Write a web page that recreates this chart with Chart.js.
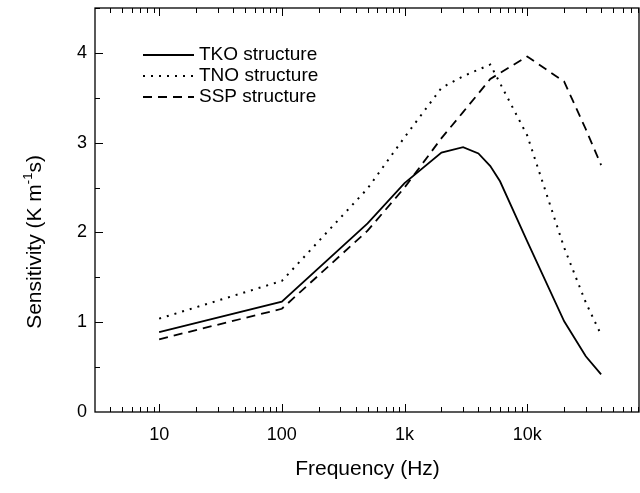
<!DOCTYPE html>
<html lang="en">
<head>
<meta charset="UTF-8">
<title>Sensitivity vs frequency</title>
<script src="https://cdn.jsdelivr.net/npm/chart.js"></script>
<style>
  html, body { margin: 0; padding: 0; background: #fff; overflow: hidden; }
  #wrap { width: 640px; height: 493px; }
</style>
</head>
<body>
<div id="wrap"><canvas id="sensChart"></canvas></div>
<script>
// values
const freqTKO = [10, 100, 500, 1000, 2000, 3000, 4000, 5000, 6000, 10000, 20000, 30000, 40000];
const sensTKO = [0.89, 1.23, 2.10, 2.55, 2.89, 2.95, 2.88, 2.74, 2.57, 1.90, 1.01, 0.62, 0.42];
const freqTNO = [10, 100, 500, 1000, 2000, 3000, 5000, 10000, 20000, 30000, 40000];
const sensTNO = [1.04, 1.46, 2.49, 3.06, 3.61, 3.74, 3.87, 3.08, 1.83, 1.22, 0.86];
const freqSSP = [10, 100, 500, 1000, 2000, 3000, 5000, 10000, 20000, 30000, 40000];
const sensSSP = [0.81, 1.15, 2.02, 2.50, 3.05, 3.34, 3.71, 3.96, 3.68, 3.15, 2.75];
const seriesNames = ["TKO structure", "TNO structure", "SSP structure"];
const xTickLabels = { 10: "10", 100: "100", 1000: "1k", 10000: "10k" };
const yTickLabels = [0, 1, 2, 3, 4];

const FONT = "'Liberation Sans', Arial, sans-serif";
const X_MIN = 3, X_MAX = 83000;

function toPoints(xs, ys) {
  return xs.map((f, i) => ({ x: f, y: ys[i] }));
}

// frame with inward ticks on bottom, top and left
const framePlugin = {
  id: "frame",
  afterDraw(chart) {
    const { ctx, chartArea: a, scales } = chart;
    const x = scales.x, y = scales.y;
    ctx.save();
    ctx.strokeStyle = "#000";
    ctx.lineWidth = 1.3;
    ctx.strokeRect(a.left, a.top, a.right - a.left - 1, a.bottom - a.top);

    ctx.lineWidth = 1;
    ctx.beginPath();
    for (let e = 0; e <= 5; e++) {
      for (let m = 1; m <= 9; m++) {
        const v = m * Math.pow(10, e);
        if (v <= X_MIN || v > X_MAX) continue;
        const px = Math.round(x.getPixelForValue(v)) + 0.5;
        const len = m === 1 ? 8 : 5;
        ctx.moveTo(px, a.bottom);
        ctx.lineTo(px, a.bottom - len);
        ctx.moveTo(px, a.top);
        ctx.lineTo(px, a.top + len);
      }
    }
    for (let v = 0.5; v <= 4.5; v += 0.5) {
      const py = Math.round(y.getPixelForValue(v)) + 0.5;
      const len = Number.isInteger(v) ? 8 : 5;
      ctx.moveTo(a.left, py);
      ctx.lineTo(a.left + len, py);
    }
    ctx.stroke();

    // y title, with a real superscript
    ctx.fillStyle = "#000";
    ctx.translate(35, 242);
    ctx.rotate(-Math.PI / 2);
    ctx.textBaseline = "middle";
    const big = "21px " + FONT, small = "13px " + FONT;
    const parts = [["Sensitivity (K m", big, 0], ["-1", small, -7], ["s)", big, 0]];
    let total = 0;
    parts.forEach(p => { ctx.font = p[1]; total += ctx.measureText(p[0]).width; });
    let cx = -total / 2;
    parts.forEach(p => {
      ctx.font = p[1];
      ctx.fillText(p[0], cx, p[2]);
      cx += ctx.measureText(p[0]).width;
    });
    ctx.restore();
  }
};

// legend inside the plot, top left
const legendPlugin = {
  id: "innerLegend",
  afterDatasetsDraw(chart) {
    const { ctx } = chart;
    ctx.save();
    ctx.font = "19px " + FONT;
    ctx.fillStyle = "#000";
    ctx.textBaseline = "middle";
    chart.data.datasets.forEach((ds, i) => {
      const yy = 55 + i * 21;
      ctx.strokeStyle = ds.borderColor;
      ctx.lineWidth = ds.borderWidth;
      ctx.setLineDash(ds.borderDash || []);
      ctx.beginPath();
      ctx.moveTo(143, yy);
      ctx.lineTo(194, yy);
      ctx.stroke();
      ctx.fillText(ds.label, 199, yy);
    });
    ctx.restore();
  }
};

const chart = new Chart(document.getElementById("sensChart"), {
  type: "line",
  data: {
    datasets: [
      { label: seriesNames[0], data: toPoints(freqTKO, sensTKO), borderColor: "#000", borderWidth: 1.8, borderDash: [] },
      { label: seriesNames[1], data: toPoints(freqTNO, sensTNO), borderColor: "#000", borderWidth: 2, borderDash: [2, 6] },
      { label: seriesNames[2], data: toPoints(freqSSP, sensSSP), borderColor: "#000", borderWidth: 1.8, borderDash: [9, 6] }
    ]
  },
  options: {
    responsive: true,
    maintainAspectRatio: false,
    animation: false,
    layout: { padding: { top: 8, right: 0, left: 0, bottom: 0 } },
    elements: { point: { radius: 0 }, line: { tension: 0, fill: false } },
    plugins: { legend: { display: false }, tooltip: { enabled: false } },
    scales: {
      x: {
        type: "logarithmic",
        min: X_MIN,
        max: X_MAX,
        grid: { display: false, drawTicks: false },
        border: { display: false },
        afterFit(scale) {
          scale.height = 81;
          scale.paddingLeft = 0;
          scale.paddingRight = 0;
        },
        ticks: {
          autoSkip: false,
          maxRotation: 0,
          padding: 12,
          color: "#000",
          font: { family: FONT, size: 18 },
          callback(v) {
            const lbl = xTickLabels[Math.round(v)];
            return lbl === undefined ? "" : lbl;
          }
        },
        title: {
          display: true,
          text: "Frequency (Hz)",
          color: "#000",
          font: { family: FONT, size: 21 },
          padding: { top: 0, bottom: 11 }
        }
      },
      y: {
        min: 0,
        max: 4.5,
        grid: { display: false, drawTicks: false },
        border: { display: false },
        afterFit(scale) {
          scale.width = 95;
          scale.paddingTop = 0;
          scale.paddingBottom = 0;
        },
        ticks: {
          stepSize: 1,
          padding: 8,
          color: "#000",
          font: { family: FONT, size: 18 },
          callback(v) {
            return yTickLabels.includes(v) ? String(v) : "";
          }
        }
      }
    }
  },
  plugins: [framePlugin, legendPlugin]
});
</script>
</body>
</html>
